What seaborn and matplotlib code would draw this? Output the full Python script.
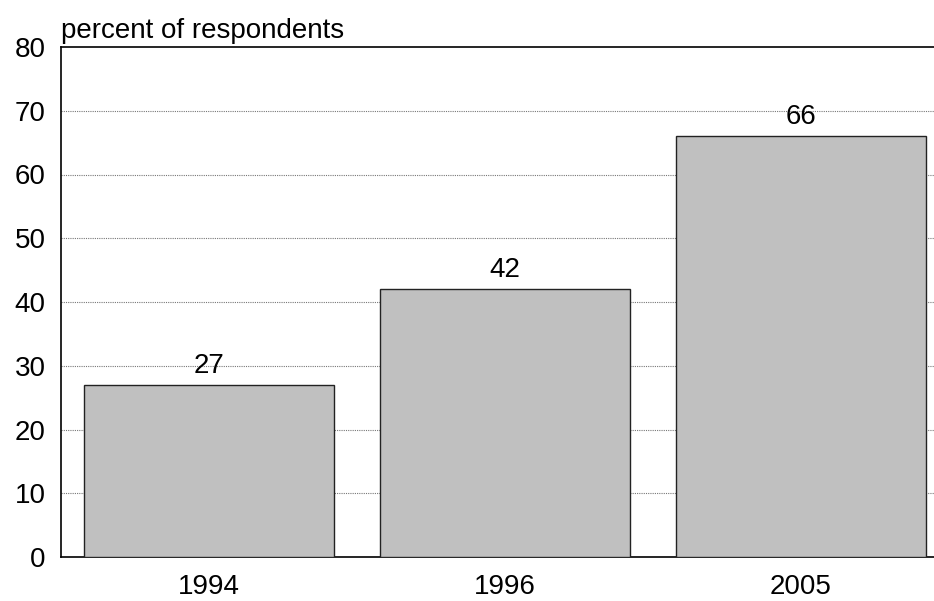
import numpy as np
import pandas as pd
import matplotlib
matplotlib.use("Agg")
import matplotlib.pyplot as plt
import seaborn as sns

years = ["1994", "1996", "2005"]
percents = [27, 42, 66]
y_ticks = [0, 10, 20, 30, 40, 50, 60, 70, 80]

sns.set_style("white")
plt.rcParams["font.family"] = ["Liberation Sans", "DejaVu Sans"]
plt.rcParams["text.color"] = "black"
plt.rcParams["xtick.color"] = "black"
plt.rcParams["ytick.color"] = "black"

df = pd.DataFrame({"year": years, "pct": percents})

fig = plt.figure(figsize=(9.34, 6.01), dpi=100)
# right edge of the frame sits just past the image edge, as in the original
ax = fig.add_axes([61 / 934, 1 - 557 / 601, 888 / 934, 510 / 601])

sns.barplot(data=df, x="year", y="pct", ax=ax, color="#c0c0c0",
            saturation=1, width=0.845, edgecolor="#222222", linewidth=1.0,
            zorder=3)

ax.set_ylim(0, 80)
ax.set_xlim(-0.5, 2.5)
ax.set_yticks(y_ticks)
for v in y_ticks[1:-1]:
    ax.axhline(v, color="#777777", linestyle=(0, (1, 1)), linewidth=0.8, zorder=1)

for i, v in enumerate(percents):
    ax.text(i, v + 3, str(v), ha="center", va="center", fontsize=20, zorder=4)

ax.set_xlabel("")
ax.set_ylabel("")
ax.tick_params(axis="both", labelsize=20, length=0)
ax.tick_params(axis="y", pad=11)
ax.tick_params(axis="x", pad=12)

for side in ["left", "top", "bottom", "right"]:
    ax.spines[side].set_color("black")
    ax.spines[side].set_linewidth(1.2)

fig.text(61 / 934, 1 - 38 / 601, "percent of respondents", fontsize=20,
         ha="left", va="baseline")

fig.savefig("out.png", dpi=100)
plt.close(fig)
